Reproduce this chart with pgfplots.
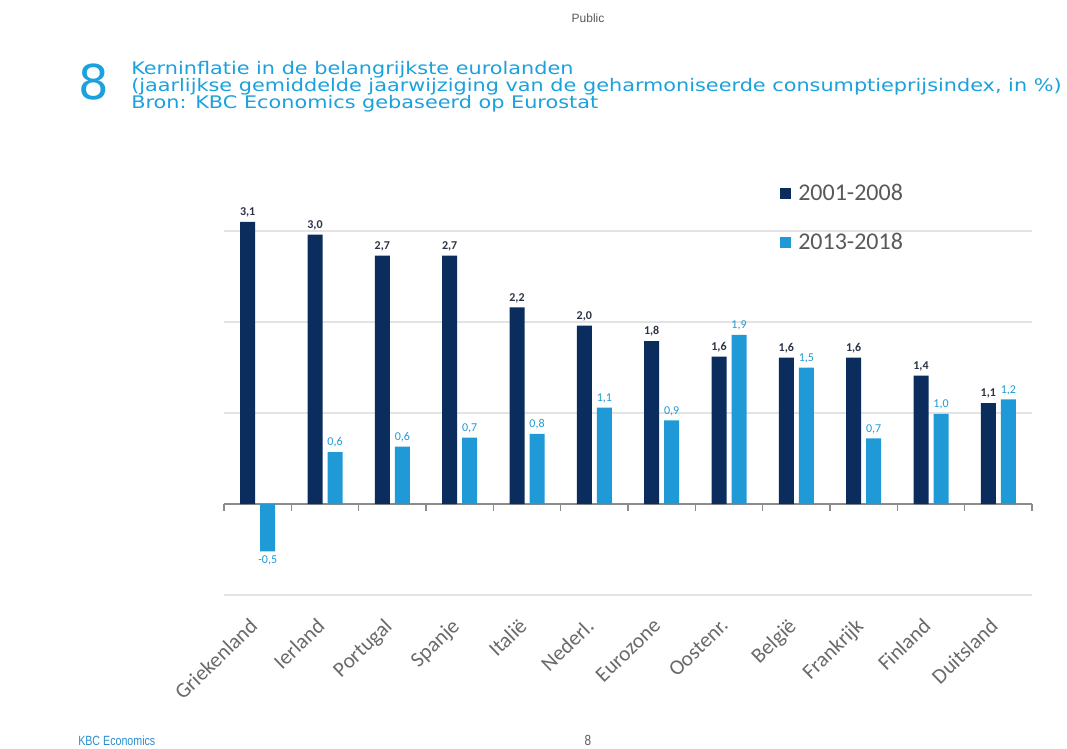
\documentclass[border=0pt]{standalone}
\usepackage{fontspec}
\setmainfont{Carlito}
\newfontfamily\titlefont[FakeStretch=1.2]{DejaVu Sans}
\newfontfamily\eightfont{DejaVu Sans}
\newfontfamily\arialf{Liberation Sans}
\newfontfamily\arialn[FakeStretch=0.8]{Liberation Sans}
\usepackage{pgfplots}
\pgfplotsset{compat=1.18}
\definecolor{navy}{HTML}{0B2D5E}
\definecolor{lblue}{HTML}{1F9AD6}
\definecolor{tblue}{HTML}{1BA1DD}
\definecolor{lbl}{HTML}{595959}
\definecolor{xlbl}{HTML}{6A6A6A}
\definecolor{gridc}{HTML}{E3E3E3}
\definecolor{zeroc}{HTML}{8C8C8C}
\definecolor{darklbl}{HTML}{2B3346}
\definecolor{kbc}{HTML}{2A8FCF}
\newcommand\px[2]{({#1*0.75pt},{(749-#2)*0.75pt})}
\begin{document}
\begin{tikzpicture}
\path[use as bounding box, fill=white] (0,0) rectangle (800.25pt,561.75pt);
\node[anchor=base, inner sep=0, font=\arialf\fontsize{9}{10}\selectfont, text=lbl] at \px{588}{23} {Public};
\node[anchor=base west, inner sep=0, font=\eightfont\fontsize{36}{36}\selectfont, text=tblue] at \px{78}{100} {8};
\node[anchor=base west, inner sep=0, font=\titlefont\fontsize{13}{13}\selectfont, text=tblue] at \px{131}{75} {Kerninflatie in de belangrijkste eurolanden};
\node[anchor=base west, inner sep=0, font=\titlefont\fontsize{13}{13}\selectfont, text=tblue] at \px{131}{92} {(jaarlijkse gemiddelde jaarwijziging van de geharmoniseerde consumptieprijsindex, in \%)};
\node[anchor=base west, inner sep=0, font=\titlefont\fontsize{13}{13}\selectfont, text=tblue] at \px{131}{109} {Bron: KBC Economics gebaseerd op Eurostat};
\node[anchor=base west, inner sep=0, font=\arialn\fontsize{10}{11}\selectfont, text=kbc] at \px{78}{746} {KBC Economics};
\node[anchor=base, inner sep=0, font=\arialn\fontsize{11}{12}\selectfont, text=lbl] at \px{588}{746} {8};
\begin{axis}[
  at={(168pt,115.5pt)}, anchor=south west,
  scale only axis, width=606pt, height=307.1pt,
  xmin=-0.5, xmax=11.5, ymin=-1, ymax=3.5,
  clip=false,
  ybar=3.75pt, bar width=11.25pt,
  axis line style={draw=none},
  xtick={0,...,11},
  xticklabels={Griekenland,Ierland,Portugal,Spanje,Italië,Nederl.,Eurozone,Oostenr.,België,Frankrijk,Finland,Duitsland},
  x tick label style={xshift=-7pt, yshift=-15pt, rotate=44, anchor=north east, font=\fontsize{16}{18}\selectfont, text=xlbl, inner sep=1pt},
  ytick={-1,1,2,3}, yticklabels={},
  major tick length=0pt,
  ymajorgrids, grid style={gridc, line width=0.8pt},
  extra y ticks={0}, extra y tick labels={},
  extra y tick style={grid style={zeroc, line width=0.8pt}},
  nodes near coords,
  /pgf/number format/assume math mode=true,
  /pgf/number format/use comma,
  /pgf/number format/fixed,
  /pgf/number format/fixed zerofill,
  /pgf/number format/precision=1,
  legend style={at={(0.6877,1.008)}, anchor=north west, draw=none, fill=none,
    font=\fontsize{18}{20}\selectfont, text=lbl, row sep=20pt, inner sep=0pt,
    nodes={inner sep=1.5pt},
    /tikz/every odd column/.append style={column sep=4pt}},
  legend cell align=left,
]
\addplot[fill=navy, draw=none,
  every node near coord/.append style={font=\fontsize{9}{10}\selectfont\bfseries, text=darklbl},
  legend image code/.code={\fill[navy] (0pt,-4.1pt) rectangle (8.25pt,4.1pt);}]
  coordinates {(0,3.10) (1,2.96) (2,2.73) (3,2.73) (4,2.16) (5,1.96) (6,1.79) (7,1.62) (8,1.61) (9,1.61) (10,1.41) (11,1.11)};
\addplot[fill=lblue, draw=none,
  every node near coord/.append style={font=\fontsize{9}{10}\selectfont, text=lblue},
  legend image code/.code={\fill[lblue] (0pt,-4.1pt) rectangle (8.25pt,4.1pt);}]
  coordinates {(0,-0.52) (1,0.57) (2,0.63) (3,0.73) (4,0.77) (5,1.06) (6,0.92) (7,1.86) (8,1.50) (9,0.72) (10,0.99) (11,1.15)};
\legend{2001-2008,2013-2018}
\pgfplotsinvokeforeach{-0.5,0.5,1.5,2.5,3.5,4.5,5.5,6.5,7.5,8.5,9.5,10.5,11.5}{
  \draw[zeroc, line width=0.8pt] (axis cs:#1,0) -- ++(0pt,-5.5pt);
}
\end{axis}
\end{tikzpicture}
\end{document}
